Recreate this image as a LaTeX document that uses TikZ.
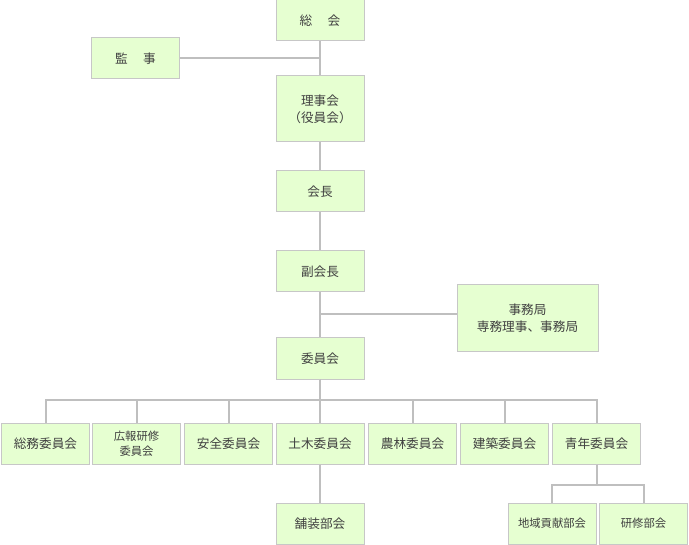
\documentclass[tikz,border=0pt]{standalone}
\usepackage{fontspec}
\setmainfont{Noto Sans CJK JP}
\begin{document}
\begin{tikzpicture}[x=0.75pt,y=-0.75pt,
  bx/.style={draw=black!22,fill=green!55!yellow!18,line width=0.75pt,text=black!75,font=\fontsize{9.5}{13}\selectfont,align=center,inner sep=0pt,minimum height=30.75pt,minimum width=66pt},
  ln/.style={draw=black!25,line width=1.5pt}]
\useasboundingbox (0,0) rectangle (689,545);
\node[bx] (sokai) at (320,20.5) {総\hspace{1.2em}会};
\node[bx] (kanji) at (135.5,58.5) {監\hspace{1.2em}事};
\node[bx,minimum height=49.5pt] (riji) at (320,109) {理事会\\（役員会）};
\node[bx] (kaicho) at (320,191.5) {会長};
\node[bx] (fuku) at (320,271.5) {副会長};
\node[bx,minimum width=105.75pt,minimum height=49.5pt] (jimu) at (527.5,318) {事務局\\専務理事、事務局};
\node[bx] (iin) at (320,358.5) {委員会};
\foreach \n/\x/\t in {a/45.5/総務委員会,c/228.5/安全委員会,d/320/土木委員会,e/412.5/農林委員会,f/504.5/建築委員会,g/596.5/青年委員会}
  \node[bx] (\n) at (\x,443.5) {\t};
\node[bx,font=\fontsize{8.5}{11}\selectfont] (b) at (136.5,443.5) {広報研修\\委員会};
\node[bx] (hoso) at (320,523.5) {舗装部会};
\node[bx,font=\fontsize{8.5}{11}\selectfont] (chiiki) at (552,523.5) {地域貢献部会};
\node[bx,font=\fontsize{8.5}{11}\selectfont] (kenshu) at (643.5,523.5) {研修部会};
\coordinate (j1) at (320,58.5);
\coordinate (j2) at (320,314);
\draw[ln] (sokai) -- (riji) (kanji) -- (j1) (riji) -- (kaicho) -- (fuku) -- (iin);
\draw[ln] (j2) -- (jimu.west|-j2);
\foreach \n in {a,b,c,d,e,f,g} \draw[ln] (iin) |- (\n.north|-0,400) -- (\n);
\draw[ln] (d) -- (hoso);
\foreach \n in {chiiki,kenshu} \draw[ln] (g) |- (\n.north|-0,485) -- (\n);
\end{tikzpicture}
\end{document}
